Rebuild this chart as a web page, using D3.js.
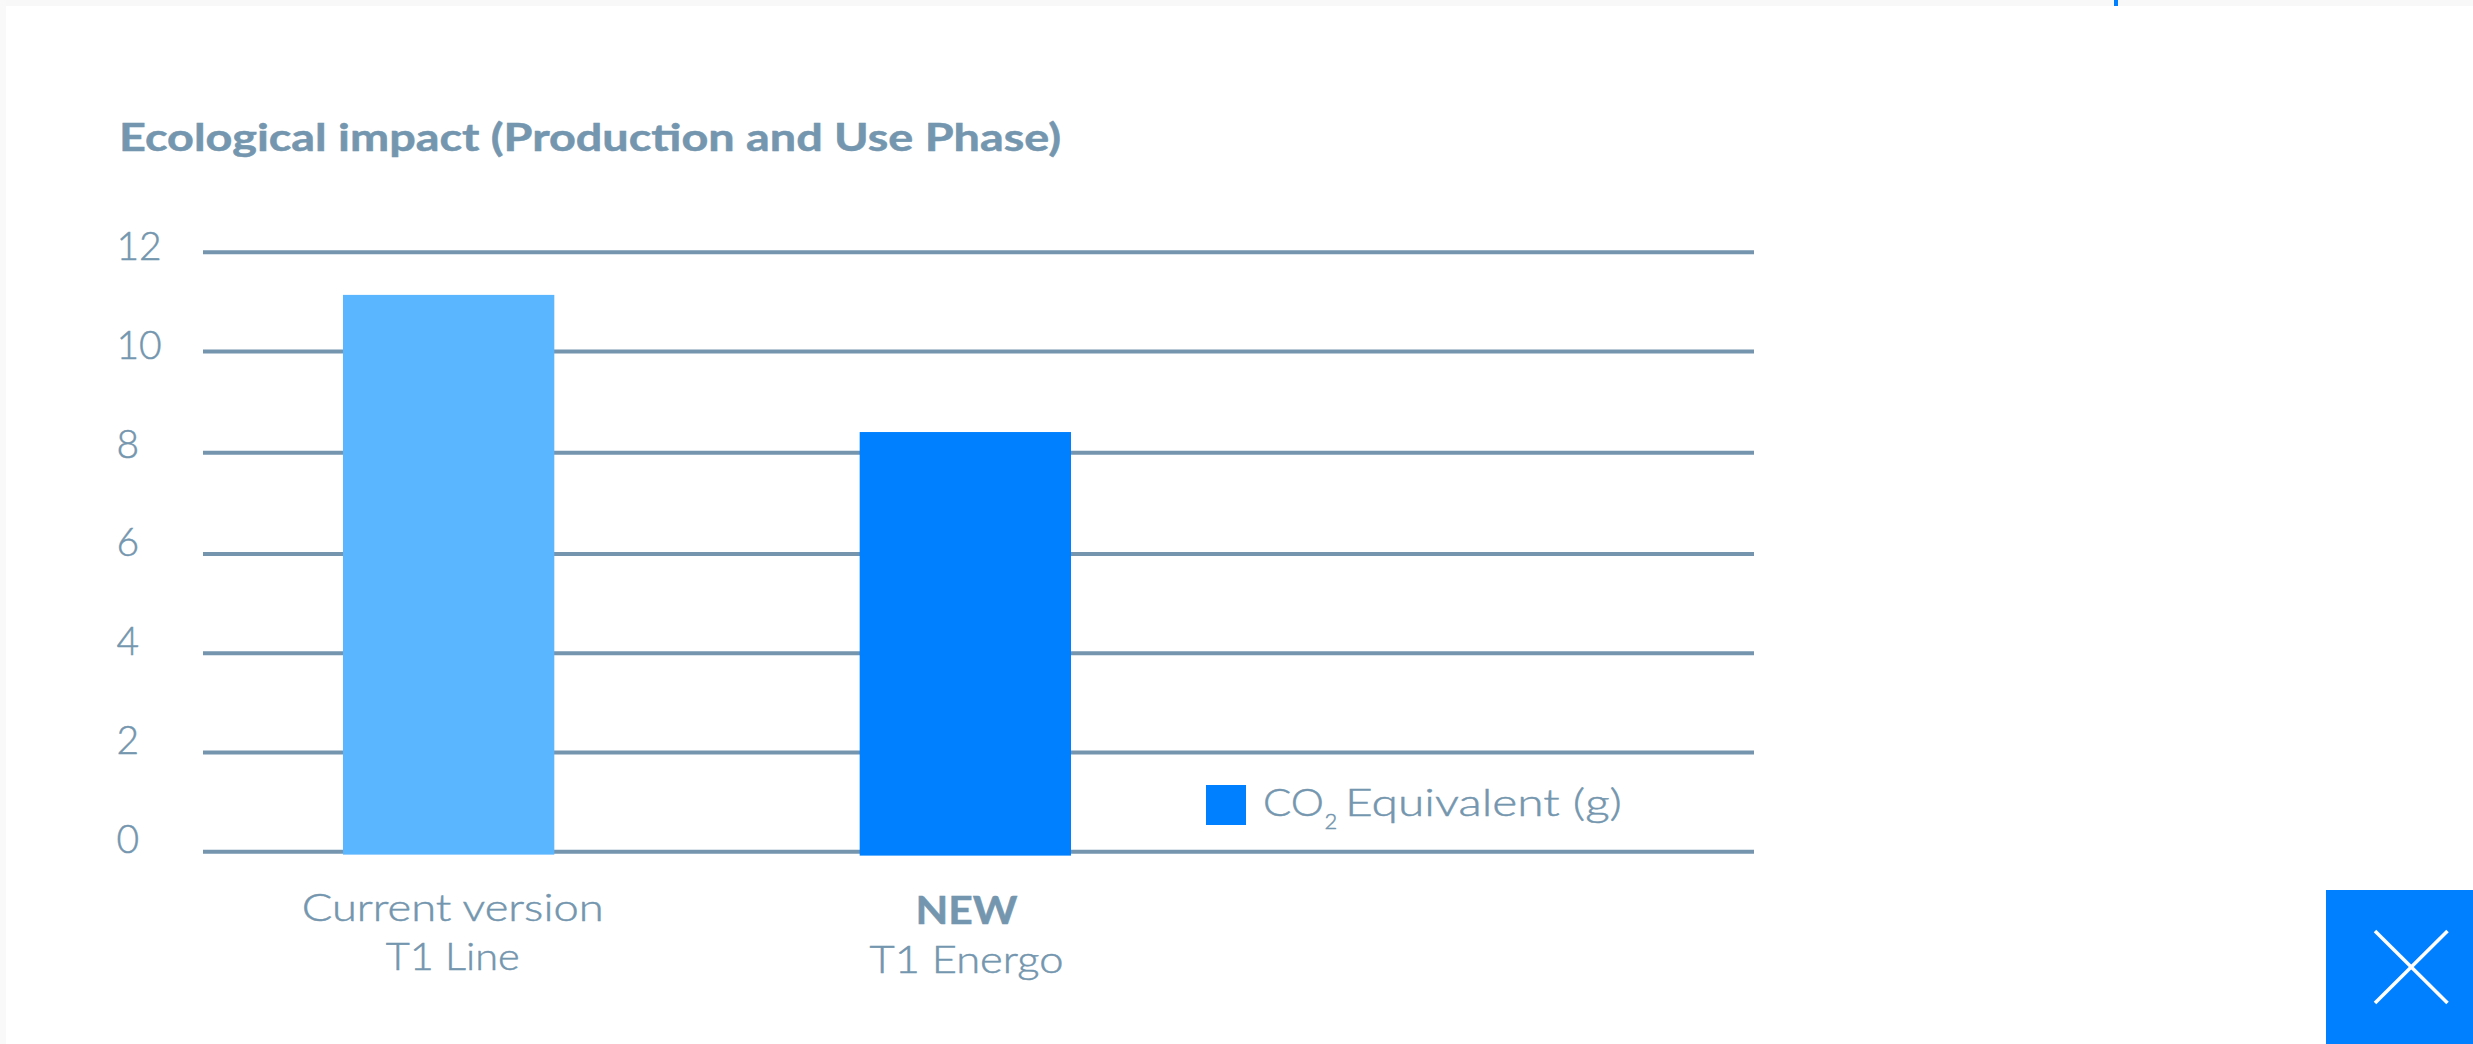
<!DOCTYPE html>
<html>
<head>
<meta charset="utf-8">
<script src="https://cdn.jsdelivr.net/npm/d3@7"></script>
<style>
  html, body { margin: 0; padding: 0; background: #fff; overflow: hidden; }
  text { font-family: "Lato", sans-serif; fill: #7496ae; stroke: #7496ae; stroke-width: 0.5; }
</style>
</head>
<body>
<div id="viz-container"></div>
<script>
let w = 2473;
let h = 1044;

// values
let categories = ["Current version", "NEW"];
let barValues = [11.13, 8.4];
let barBase = [-0.069, -0.089];   // the bars poke out a little under the zero line
let barColors = ["#5ab6ff", "#0080ff"];
let yTicks = [0, 2, 4, 6, 8, 10, 12];
let firstLines = ["Current version", "NEW"];
let secondLines = ["T1 Line", "T1 Energo"];
let firstWidths = [302, 102];
let secondWidths = [134, 194];

let blue = "#0080ff";
let grey = "#7496ae";

let viz = d3.select("#viz-container")
                .append("svg")
                    .attr("width", w)
                    .attr("height", h)
                    .style("display", "block")
;

///////////////////////////////////////////////////////////////////////////
// page edge behind the chart

viz.append("rect").attr("width", w).attr("height", 6).attr("fill", "#f8f8f8");
viz.append("rect").attr("width", 6).attr("height", h).attr("fill", "#f9f9f9");
viz.append("rect").attr("x", 2114).attr("y", 0).attr("width", 4).attr("height", 6).attr("fill", blue);

///////////////////////////////////////////////////////////////////////////
// scales

// the gridlines in the reference are not quite evenly spaced
let y = d3.scaleLinear().domain(yTicks).range([851.2, 752, 652.7, 553.4, 452.3, 351, 251.7]);
// tick labels sit on a slightly tighter spacing than the lines
let yLabel = d3.scaleLinear().domain([0, 12]).range([852.4, 259.5]);
let x = d3.scaleBand().domain(categories).range([343, 1071]).paddingInner(0.591);
let xLabel = d3.scalePoint().domain(categories).range([452.7, 966.5]);

///////////////////////////////////////////////////////////////////////////
// title

viz.append("text")
    .attr("x", 119)
    .attr("y", 150.5)
    .attr("font-size", 38)
    .attr("font-weight", 700)
    .attr("textLength", 942)
    .attr("lengthAdjust", "spacingAndGlyphs")
    .text("Ecological impact (Production and Use Phase)")
;

///////////////////////////////////////////////////////////////////////////
// gridlines

let grid = viz.append("g")
    .attr("transform", "translate(203,0)")
    .call(d3.axisRight(y).tickValues(yTicks).tickSize(1551).tickFormat(""))
;
grid.select(".domain").remove();
grid.selectAll("line").attr("stroke", "#7595ae").attr("stroke-width", 4);

///////////////////////////////////////////////////////////////////////////
// y labels

let yAxis = viz.append("g")
    .attr("transform", "translate(116.5,0)")
    .call(d3.axisLeft(yLabel).tickValues(yTicks).tickSize(0).tickPadding(0))
;
yAxis.select(".domain").remove();
yAxis.selectAll("text")
    .attr("x", 0)
    .attr("dy", 0)
    .attr("text-anchor", "start")
    .attr("font-size", 39)
    .attr("font-weight", 300)
    .style("font-family", "Lato")
;

///////////////////////////////////////////////////////////////////////////
// bars

viz.selectAll(".bar").data(categories)
    .enter()
      .append("rect")
      .attr("class", "bar")
      .attr("x", function(d){ return x(d); })
      .attr("y", function(d, i){ return y(barValues[i]); })
      .attr("width", x.bandwidth())
      .attr("height", function(d, i){ return y(barBase[i]) - y(barValues[i]); })
      .attr("fill", function(d, i){ return barColors[i]; })
;

///////////////////////////////////////////////////////////////////////////
// category labels

viz.selectAll(".firstLine").data(firstLines)
    .enter()
      .append("text")
      .attr("class", "firstLine")
      .attr("x", function(d){ return xLabel(d); })
      .attr("y", function(d, i){ return i == 0 ? 921 : 924.4; })
      .attr("text-anchor", "middle")
      .attr("font-size", 38)
      .attr("font-weight", function(d, i){ return i == 0 ? 300 : 700; })
      .attr("textLength", function(d, i){ return firstWidths[i]; })
      .attr("lengthAdjust", "spacingAndGlyphs")
      .text(function(d){ return d; })
;

viz.selectAll(".secondLine").data(secondLines)
    .enter()
      .append("text")
      .attr("class", "secondLine")
      .attr("x", function(d, i){ return xLabel(categories[i]); })
      .attr("y", function(d, i){ return i == 0 ? 969.5 : 972.9; })
      .attr("text-anchor", "middle")
      .attr("font-size", 38)
      .attr("font-weight", 300)
      .attr("textLength", function(d, i){ return secondWidths[i]; })
      .attr("lengthAdjust", "spacingAndGlyphs")
      .text(function(d){ return d; })
;

///////////////////////////////////////////////////////////////////////////
// legend

viz.append("rect")
    .attr("x", 1206).attr("y", 785)
    .attr("width", 40).attr("height", 40)
    .attr("fill", blue)
;
viz.append("text")
    .attr("x", 1263).attr("y", 816)
    .attr("font-size", 38).attr("font-weight", 300)
    .attr("textLength", 61).attr("lengthAdjust", "spacingAndGlyphs")
    .text("CO")
;
viz.append("text")
    .attr("x", 1324.5).attr("y", 829)
    .attr("font-size", 22).attr("font-weight", 300)
    .text("2")
;
viz.append("text")
    .attr("x", 1345).attr("y", 816)
    .attr("font-size", 38).attr("font-weight", 300)
    .attr("textLength", 277).attr("lengthAdjust", "spacingAndGlyphs")
    .text("Equivalent (g)")
;

///////////////////////////////////////////////////////////////////////////
// close button

viz.append("rect")
    .attr("x", 2326).attr("y", 890)
    .attr("width", 147).attr("height", 154)
    .attr("fill", blue)
;
let closeLines = [[2375, 931, 2447.5, 1003], [2447.5, 931, 2375, 1003]];
viz.selectAll(".closeLine").data(closeLines)
    .enter()
      .append("line")
      .attr("class", "closeLine")
      .attr("x1", function(d){ return d[0]; })
      .attr("y1", function(d){ return d[1]; })
      .attr("x2", function(d){ return d[2]; })
      .attr("y2", function(d){ return d[3]; })
      .attr("stroke", "#fff")
      .attr("stroke-width", 3.5)
;
</script>
</body>
</html>
